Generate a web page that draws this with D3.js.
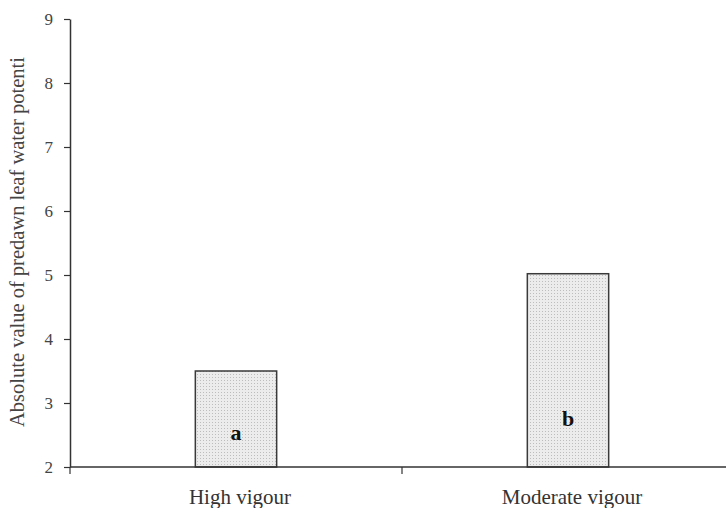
<!DOCTYPE html>
<html>
<head>
<meta charset="utf-8">
<script src="https://cdn.jsdelivr.net/npm/d3@7"></script>
<style>
body { margin: 0; background: #fff; }
text { font-family: "Liberation Serif", "Times New Roman", serif; }
</style>
</head>
<body>
<div id="chart"></div>
<script>
const categories = ['High vigour', 'Moderate vigour'];
const values = [3.5, 5.02];
const letters = ['a', 'b'];
const yTicks = [2, 3, 4, 5, 6, 7, 8, 9];

const width = 726;
const height = 508;
const margin = { top: 19, right: -8, bottom: 41, left: 70 };

const svg = d3.select('#chart')
    .append('svg')
    .attr('width', width)
    .attr('height', height);

// dotted fill like the original print
const defs = svg.append('defs');
const pat = defs.append('pattern')
    .attr('id', 'dots')
    .attr('width', 3)
    .attr('height', 3)
    .attr('patternUnits', 'userSpaceOnUse');
pat.append('rect').attr('width', 3).attr('height', 3).attr('fill', '#ececec');
pat.append('rect').attr('x', 1).attr('y', 1).attr('width', 1).attr('height', 1).attr('fill', '#bdbdbd');

const g = svg.append('g')
    .attr('transform', `translate(${margin.left},${margin.top})`);

const innerW = width - margin.left - margin.right;
const innerH = height - margin.top - margin.bottom;

const x = d3.scaleBand()
    .domain(categories)
    .range([0, innerW]);

const y = d3.scaleLinear()
    .domain([2, 9])
    .range([innerH, 0]);

const barW = x.bandwidth() * 0.245;

// bars
g.selectAll('rect.bar')
    .data(categories)
    .enter()
    .append('rect')
    .attr('class', 'bar')
    .attr('x', (d) => x(d) + x.bandwidth() / 2 - barW / 2)
    .attr('y', (d, i) => y(values[i]))
    .attr('width', barW)
    .attr('height', (d, i) => innerH - y(values[i]))
    .attr('fill', 'url(#dots)')
    .attr('stroke', '#3a3a3a')
    .attr('stroke-width', 1.5);

// significance letters
g.selectAll('text.letter')
    .data(categories)
    .enter()
    .append('text')
    .attr('class', 'letter')
    .attr('x', (d) => x(d) + x.bandwidth() / 2)
    .attr('y', (d, i) => (i === 0 ? innerH - 27 : innerH - 41))
    .attr('text-anchor', 'middle')
    .attr('font-weight', 'bold')
    .attr('font-size', 22)
    .attr('fill', '#111')
    .text((d, i) => letters[i]);

// y axis
const yAxis = g.append('g')
    .call(d3.axisLeft(y).tickValues(yTicks).tickSize(6).tickSizeOuter(0).tickFormat(d3.format('d')));
yAxis.select('.domain').attr('stroke', '#333').attr('stroke-width', 1.5);
yAxis.selectAll('.tick line').attr('stroke', '#333').attr('stroke-width', 1.2);
yAxis.selectAll('.tick text')
    .attr('font-size', 17)
    .attr('fill', '#444')
    .attr('x', -17);

// x axis
const xAxis = g.append('g')
    .attr('transform', `translate(0,${innerH})`);
xAxis.append('line')
    .attr('x1', 0)
    .attr('x2', innerW)
    .attr('stroke', '#333')
    .attr('stroke-width', 1.5);
// tick marks at band edges
xAxis.selectAll('line.tick')
    .data(categories)
    .enter()
    .append('line')
    .attr('class', 'tick')
    .attr('x1', (d) => x(d))
    .attr('x2', (d) => x(d))
    .attr('y1', 0)
    .attr('y2', 7)
    .attr('stroke', '#333')
    .attr('stroke-width', 1.2);
xAxis.selectAll('text')
    .data(categories)
    .enter()
    .append('text')
    .attr('x', (d) => x(d) + x.bandwidth() / 2 + 4)
    .attr('y', 37)
    .attr('text-anchor', 'middle')
    .attr('font-size', 21)
    .attr('fill', '#333')
    .text((d) => d);

// y axis title
svg.append('text')
    .attr('transform', `translate(24,242) rotate(-90)`)
    .attr('text-anchor', 'middle')
    .attr('font-size', 20.5)
    .attr('fill', '#444')
    .text('Absolute value of predawn leaf water potenti');
</script>
</body>
</html>
